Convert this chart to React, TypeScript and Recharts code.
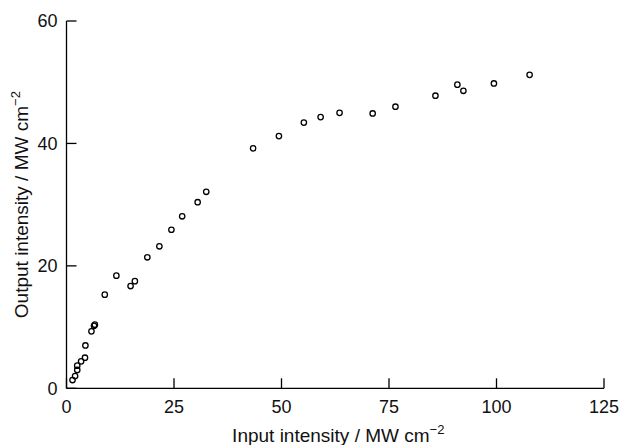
import { ScatterChart, Scatter, XAxis, YAxis } from "recharts";

const inputIntensity = [
  1.4, 2.0, 2.5, 2.5, 3.4, 4.3, 4.4, 5.8, 6.4, 6.6, 8.9, 11.6, 14.9, 15.9,
  18.8, 21.6, 24.4, 26.9, 30.5, 32.5, 43.4, 49.4, 55.2, 59.1, 63.5, 71.2,
  76.5, 85.8, 90.9, 92.3, 99.4, 107.7,
];
const outputIntensity = [
  1.35, 2.0, 3.0, 3.7, 4.4, 5.0, 7.0, 9.3, 10.2, 10.4, 15.3, 18.4, 16.7, 17.5,
  21.4, 23.2, 25.9, 28.1, 30.4, 32.1, 39.2, 41.2, 43.4, 44.3, 45.0, 44.9,
  46.0, 47.8, 49.6, 48.6, 49.8, 51.2,
];
const xTicks = [0, 25, 50, 75, 100, 125];
const yTicks = [0, 20, 40, 60];

const FONT = '"Liberation Sans", Arial, sans-serif';

function XLabel({ viewBox }: any) {
  const cx = viewBox.x + viewBox.width / 2 + 3;
  return (
    <text x={cx} y={441.5} textAnchor="middle" fontSize={19} fontFamily={FONT} fill="#111">
      Input intensity / MW cm
      <tspan fontSize={13} dy={-8}>−2</tspan>
    </text>
  );
}

function YLabel({ viewBox }: any) {
  const cy = viewBox.y + viewBox.height / 2;
  const x = 28;
  return (
    <text
      x={x}
      y={cy}
      transform={`rotate(-90 ${x} ${cy})`}
      textAnchor="middle"
      fontSize={19}
      fontFamily={FONT}
      fill="#111"
    >
      Output intensity / MW cm
      <tspan fontSize={13} dy={-8}>−2</tspan>
    </text>
  );
}

function Ring({ cx, cy }: any) {
  return <circle cx={cx} cy={cy} r={2.7} fill="none" stroke="#000" strokeWidth={1.3} />;
}

export default function App() {
  const data = inputIntensity.map((x, i) => ({ x, y: outputIntensity[i] }));
  const tick = { fontSize: 18, fill: "#111", fontFamily: FONT };

  return (
    <div style={{ position: "absolute", left: 0, top: 0, width: 622, height: 445, background: "#fff" }}>
      <ScatterChart
        width={622}
        height={445}
        margin={{ top: 21, right: 18, bottom: 0, left: 0 }}
      >
        <XAxis
          type="number"
          dataKey="x"
          domain={[0, 125]}
          ticks={xTicks}
          height={56.7}
          tick={tick}
          tickSize={-10}
          tickMargin={22}
          axisLine={{ stroke: "#000", strokeWidth: 1.3 }}
          tickLine={{ stroke: "#000", strokeWidth: 1.3 }}
          label={<XLabel />}
        />
        <YAxis
          type="number"
          dataKey="y"
          domain={[0, 60]}
          ticks={yTicks}
          width={66.5}
          tick={tick}
          tickSize={-10}
          tickMargin={19}
          axisLine={{ stroke: "#000", strokeWidth: 1.3 }}
          tickLine={{ stroke: "#000", strokeWidth: 1.3 }}
          label={<YLabel />}
        />
        <Scatter data={data} shape={<Ring />} isAnimationActive={false} />
      </ScatterChart>
    </div>
  );
}
